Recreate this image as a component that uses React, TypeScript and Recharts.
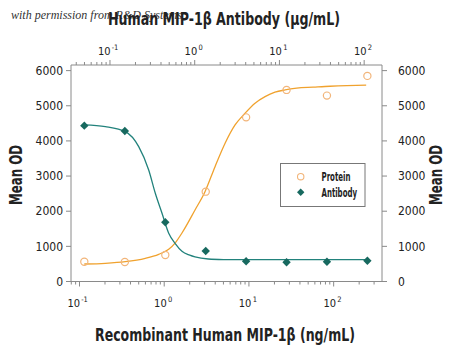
import React from 'react';
import { ComposedChart, XAxis, YAxis, Line, Scatter } from 'recharts';

// Measured points (x: recombinant protein, ng/mL; y: mean OD)
const concentrations = [0.114, 0.343, 1.03, 3.09, 9.26, 27.8, 83.3, 250];
const proteinOD = [564, 555, 754, 2556, 4670, 5451, 5289, 5850];
const antibodyOD = [4435, 4284, 1685, 868, 575, 547, 564, 592];

// Fitted curves
const proteinFitX = [0.114, 0.202, 0.348, 0.598, 0.861, 1.13, 1.35, 1.62, 2.31, 3.03, 3.98, 5.23, 6.86, 9.0, 11.8, 15.5, 20.3, 26.7, 36.6, 57.1, 90.6, 143, 242];
const proteinFitOD = [498, 518, 564, 660, 774, 916, 1100, 1380, 2035, 2556, 3268, 3934, 4455, 4788, 5073, 5260, 5386, 5451, 5500, 5528, 5556, 5574, 5585];
const antibodyFitX = [0.114, 0.202, 0.348, 0.5, 0.656, 0.785, 0.942, 1.13, 1.35, 1.62, 2.0, 2.31, 3.32, 5.0, 9.0, 30, 242];
const antibodyFitOD = [4455, 4406, 4264, 3837, 3174, 2511, 1941, 1372, 1080, 860, 750, 700, 640, 625, 620, 620, 620];

const yTicks = [0, 1000, 2000, 3000, 4000, 5000, 6000];
const bottomDomain = [0.0794, 372];
const topDomain = [0.03467, 162.4];
const decades = [0.01, 0.1, 1, 10, 100];

const AXIS = '#8a8a8a';
const TXT = '#222';
const ORANGE_LINE = '#F0A22E';
const ORANGE_PT = '#F2B57A';
const TEAL_LINE = '#22827C';
const TEAL_PT = '#17695F';
const FONT = '"Liberation Sans Narrow", "DejaVu Sans Condensed", "Liberation Sans", sans-serif';

const zip = (xs: number[], ys: number[]) => xs.map((x, i) => ({ x, y: ys[i] }));
const proteinPts = zip(concentrations, proteinOD);
const antibodyPts = zip(concentrations, antibodyOD);
const proteinFit = zip(proteinFitX, proteinFitOD);
const antibodyFit = zip(antibodyFitX, antibodyFitOD);
// invisible helper so the top (antibody µg/mL) axis gets a scale
const topAxisSpan = topDomain.map((x) => ({ x, y: 0 }));

const logTicks = (dom: number[]) => {
  const out: number[] = [];
  decades.forEach((d) => {
    for (let m = 1; m <= 9; m++) {
      const v = +(m * d).toPrecision(6);
      if (v >= dom[0] && v <= dom[1]) out.push(v);
    }
  });
  return out;
};
const isMajor = (v: number) => Math.abs(Math.log10(v) - Math.round(Math.log10(v))) < 1e-6;

const PowLabel = ({ x, y, v }: { x: number; y: number; v: number }) => {
  const e = Math.round(Math.log10(v));
  const neg = e < 0;
  const baseRight = neg ? x + 0.5 : x + 2.5;
  return (
    <g>
      <text x={baseRight} y={y} textAnchor="end" fontFamily={FONT} fontSize={11} fill={TXT}>
        10
      </text>
      <text x={baseRight + 1.2} y={y - 5} textAnchor="start" fontFamily={FONT} fontSize={7.5} fill={TXT}>
        {e}
      </text>
    </g>
  );
};

const BottomTick = (props: any) => {
  const { x, y, payload } = props;
  const v = payload.value;
  const major = isMajor(v);
  return (
    <g>
      <line x1={x} x2={x} y1={y} y2={y + (major ? 5 : 3)} stroke={AXIS} strokeWidth={1} />
      {major && <PowLabel x={x} y={y + 25.5} v={v} />}
    </g>
  );
};

const TopTick = (props: any) => {
  const { x, y, payload } = props;
  const v = payload.value;
  const major = isMajor(v);
  return (
    <g>
      <line x1={x} x2={x} y1={y} y2={y - (major ? 5 : 3)} stroke={AXIS} strokeWidth={1} />
      {major && <PowLabel x={x} y={y - 10.5} v={v} />}
    </g>
  );
};

const Circle = (props: any) => {
  const { cx, cy } = props;
  if (cx == null || cy == null) return null;
  return <circle cx={cx} cy={cy} r={3.6} fill="none" stroke={ORANGE_PT} strokeWidth={1.2} />;
};
const Diamond = (props: any) => {
  const { cx, cy } = props;
  if (cx == null || cy == null) return null;
  const s = 4.2;
  return <path d={`M${cx},${cy - s}L${cx + s},${cy}L${cx},${cy + s}L${cx - s},${cy}Z`} fill={TEAL_PT} />;
};

export default function App() {
  return (
    <div style={{ position: 'absolute', left: 0, top: 0, width: 450, height: 347, background: '#fff' }}>
      <ComposedChart width={450} height={347} margin={{ top: 0, right: 0, bottom: 0, left: 0 }}>
        <XAxis
          xAxisId="b"
          dataKey="x"
          type="number"
          scale="log"
          domain={bottomDomain}
          allowDataOverflow
          ticks={logTicks(bottomDomain)}
          interval={0}
          height={65.5}
          tickSize={0}
          tickMargin={0}
          tickLine={false}
          tick={<BottomTick />}
          stroke={AXIS}
        />
        <XAxis
          xAxisId="t"
          dataKey="x"
          orientation="top"
          type="number"
          scale="log"
          domain={topDomain}
          allowDataOverflow
          ticks={logTicks(topDomain)}
          interval={0}
          height={65}
          tickSize={0}
          tickMargin={0}
          tickLine={false}
          tick={<TopTick />}
          stroke={AXIS}
        />
        <YAxis
          yAxisId="l"
          dataKey="y"
          type="number"
          domain={[0, 6160]}
          allowDataOverflow
          ticks={yTicks}
          interval={0}
          width={71}
          tickSize={5}
          tickMargin={3}
          stroke={AXIS}
          tick={{ fill: TXT, fontSize: 12, fontFamily: FONT }}
        />
        <YAxis
          yAxisId="r"
          dataKey="y"
          orientation="right"
          type="number"
          domain={[0, 6160]}
          allowDataOverflow
          ticks={yTicks}
          interval={0}
          width={68}
          tickSize={5}
          tickMargin={11}
          stroke={AXIS}
          tick={{ fill: TXT, fontSize: 12, fontFamily: FONT, textAnchor: 'start' }}
        />
        <Line xAxisId="t" yAxisId="r" data={topAxisSpan} dataKey="y" stroke="none" dot={false} activeDot={false} isAnimationActive={false} />
        <Line xAxisId="b" yAxisId="l" data={proteinFit} dataKey="y" type="monotone" stroke={ORANGE_LINE} strokeWidth={1.3} dot={false} isAnimationActive={false} />
        <Line xAxisId="b" yAxisId="l" data={antibodyFit} dataKey="y" type="monotone" stroke={TEAL_LINE} strokeWidth={1.3} dot={false} isAnimationActive={false} />
        <Scatter xAxisId="b" yAxisId="l" data={proteinPts} dataKey="y" shape={<Circle />} isAnimationActive={false} />
        <Scatter xAxisId="b" yAxisId="l" data={antibodyPts} dataKey="y" shape={<Diamond />} isAnimationActive={false} />
      </ComposedChart>
      <svg width={450} height={347} style={{ position: 'absolute', left: 0, top: 0, pointerEvents: 'none' }}>
        <text x={11} y={19} fontFamily='"Liberation Serif", serif' fontStyle="italic" fontSize={12} fill="#333">
          with permission from R&amp;D Systems
        </text>
        <text x={224} y={25} textAnchor="middle" fontFamily={FONT} fontWeight="bold" fontSize={18} fill={TXT} textLength={232} lengthAdjust="spacingAndGlyphs">
          Human MIP-1β Antibody (μg/mL)
        </text>
        <text x={225} y={341} textAnchor="middle" fontFamily={FONT} fontWeight="bold" fontSize={18} fill={TXT} textLength={260} lengthAdjust="spacingAndGlyphs">
          Recombinant Human MIP-1β (ng/mL)
        </text>
        <text x={21.5} y={175} transform="rotate(-90 21.5 175)" textAnchor="middle" fontFamily={FONT} fontWeight="bold" fontSize={17} fill={TXT} textLength={60} lengthAdjust="spacingAndGlyphs">
          Mean OD
        </text>
        <text x={442} y={175} transform="rotate(-90 442 175)" textAnchor="middle" fontFamily={FONT} fontWeight="bold" fontSize={17} fill={TXT} textLength={60} lengthAdjust="spacingAndGlyphs">
          Mean OD
        </text>
        <rect x={280.5} y={163.5} width={84.5} height={43} fill="#fff" stroke="#777" strokeWidth={1} />
        <circle cx={300.7} cy={176.7} r={3.2} fill="none" stroke={ORANGE_PT} strokeWidth={1.1} />
        <path d="M300.7,188.6L304.4,192.3L300.7,196L297,192.3Z" fill={TEAL_PT} />
        <text x={321.5} y={180.8} fontFamily={FONT} fontWeight="bold" fontSize={12} fill={TXT} textLength={29} lengthAdjust="spacingAndGlyphs">Protein</text>
        <text x={321.5} y={196.5} fontFamily={FONT} fontWeight="bold" fontSize={12} fill={TXT} textLength={35.5} lengthAdjust="spacingAndGlyphs">Antibody</text>
      </svg>
    </div>
  );
}
